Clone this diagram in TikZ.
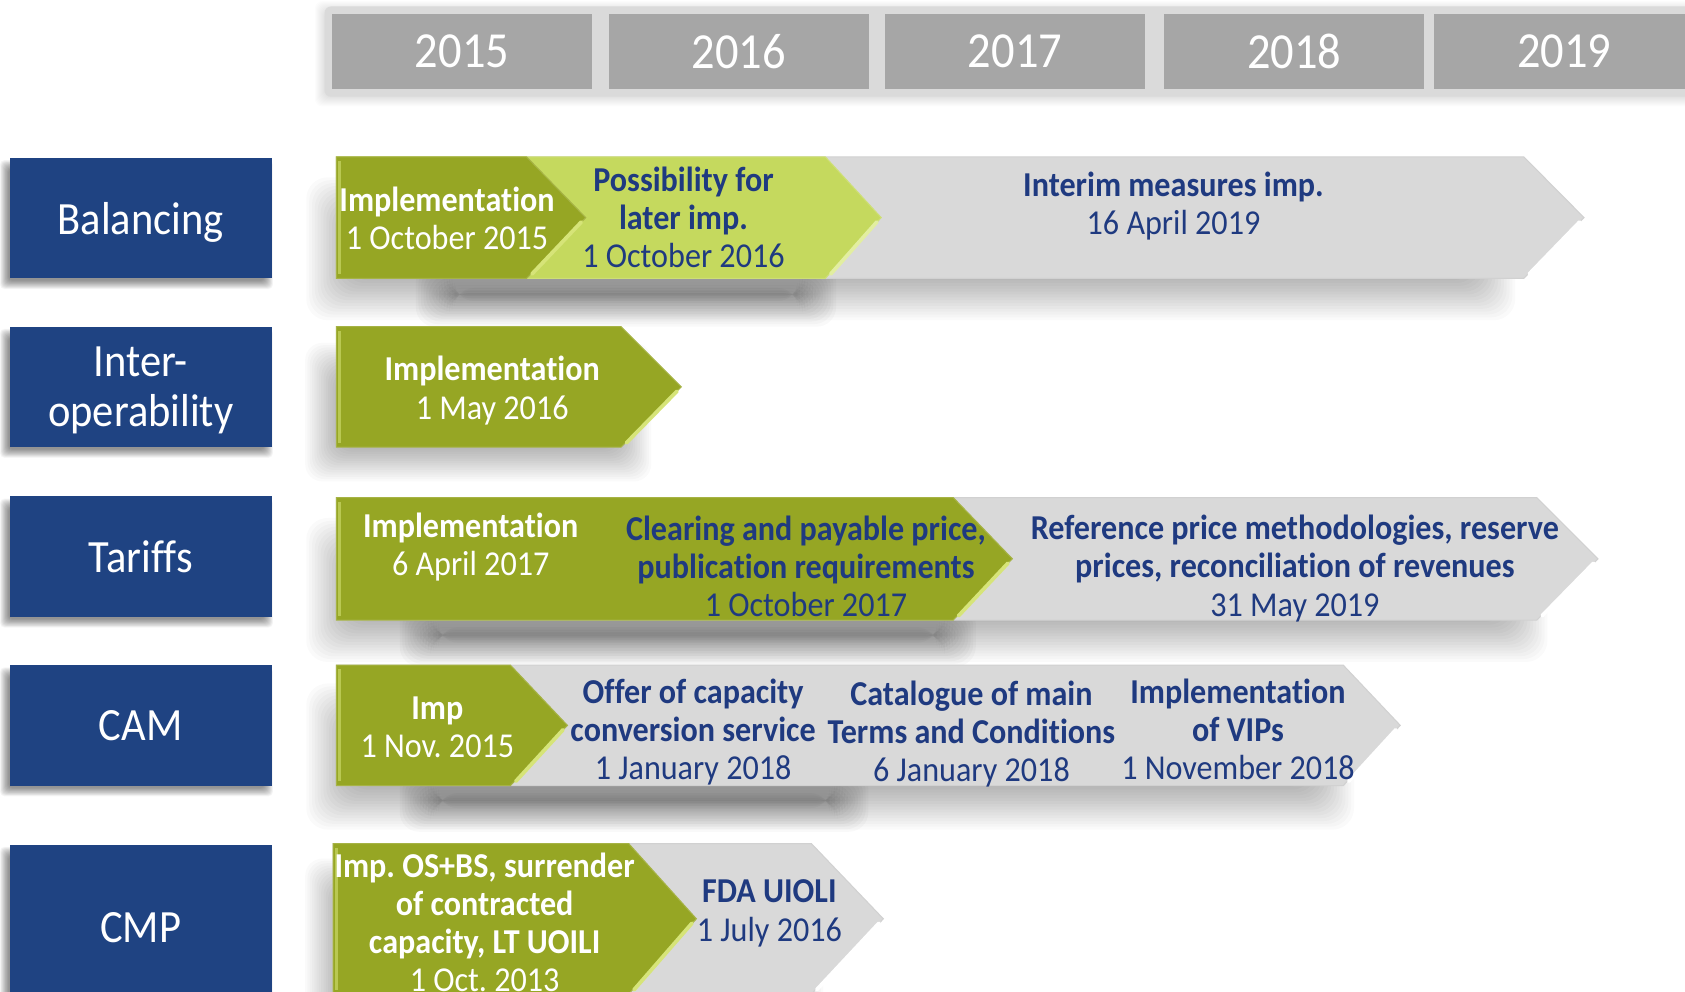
\documentclass[tikz,border=0pt]{standalone}
\usepackage{fontspec}
\setmainfont{Carlito}[FakeStretch=0.92, Ligatures=NoCommon]
\usetikzlibrary{calc}
\definecolor{blueL}{RGB}{31,67,130}
\definecolor{txtB}{RGB}{31,58,128}
\definecolor{oliveG}{RGB}{150,166,36}
\definecolor{lightG}{RGB}{197,217,94}
\definecolor{arrG}{RGB}{217,217,217}
\definecolor{yearG}{RGB}{166,166,166}
\definecolor{haloG}{RGB}{218,218,218}
\definecolor{oliveHi}{RGB}{214,228,120}
\definecolor{lightHi}{RGB}{226,238,160}

% x1 y1 x2 y2 radius layer-opacity
\newcommand\softbox[6]{%
  \foreach \k in {0,...,15}{%
    \fill[black, fill opacity=#6, rounded corners=#5pt]
      ({#1-#5+\k*#5/7.5},{#2-#5+\k*#5/7.5}) rectangle ({#3+#5-\k*#5/7.5},{#4+#5-\k*#5/7.5});
  }}
% x1 xc x2 y1 y2 style
\newcommand\mychev[6]{%
  \path[#6] (#1,#4) -- (#2,#4) -- (#3,{(#4+#5)/2}) -- (#2,#5) -- (#1,#5) -- cycle;}
% x1 xc x2 y1 y2 colour
\newcommand\mybevel[6]{%
  \draw[#6, line width=3.5pt, line cap=round] ({#2+5},{#5-4}) -- ({#3-4},{(#4+#5)/2+4});
  \draw[#6, line width=2.5pt, opacity=0.55] ({#1+3},{#4+4}) -- ({#1+3},{#5-4});}

\tikzset{
  lab/.style={fill=blueL, text=white, minimum width=244pt, minimum height=112pt, inner sep=0pt,
    align=center, text depth=0pt, font=\fontsize{43}{47}\selectfont},
  yr/.style={fill=yearG, text=white, minimum width=242pt, minimum height=70pt, inner sep=0pt,
    font=\fontsize{47}{50}\selectfont},
  wt/.style={text=white, align=center, inner sep=0pt, font=\frenchspacing\fontsize{32.5}{35.5}\selectfont},
  bt/.style={text=txtB, align=center, inner sep=0pt, font=\frenchspacing\fontsize{32.5}{35.5}\selectfont},
  grayarr/.style={fill=arrG, draw=black!18, line width=1pt},
  olivearr/.style={fill=oliveG, draw=oliveG!85!white, line width=1pt},
  lightarr/.style={fill=lightG, draw=lightG!85!white, line width=1pt},
}

\begin{document}
\begin{tikzpicture}[x={(1pt,0)}, y={(0,-1pt)}]
\useasboundingbox[fill=white] (0,0) rectangle (1568,923);

% ---------- year header ----------
\softbox{300}{8}{1600}{92}{7}{0.012}
\fill[haloG, rounded corners=6pt] (302,6) rectangle (1600,90);
\node[yr] (y15) at (430,48) {2015};
\node[yr] (y16) at (687.5,48) {2016};
\node[yr] (y17) at (944.5,48) {2017};
\node[yr] (y18) at (1204.5,48) {2018};
\node[yr] (y19) at (1455.5,48) {2019};

% ---------- left labels ----------
\softbox{4}{153}{250}{265}{4}{0.03}
\softbox{4}{310}{250}{422}{4}{0.03}
\softbox{4}{468}{250}{580}{4}{0.03}
\softbox{4}{625}{250}{737}{4}{0.03}
\softbox{4}{792}{250}{940}{4}{0.03}
\node[lab] (lbal) at (131,203) {Balancing};
\node[lab] (lint) at (131,360) {Inter-\\operability};
\node[lab] (ltar) at (131,518) {Tariffs};
\node[lab] (lcam) at (131,675) {CAM};
\node[lab, minimum height=154pt] (lcmp) at (131,863) {CMP};

% ---------- shadows of the rows ----------
\softbox{305}{185}{1390}{278}{20}{0.02}
\softbox{405}{262}{760}{286}{18}{0.022}
\softbox{300}{335}{590}{432}{16}{0.018}
\softbox{305}{502}{1420}{596}{20}{0.02}
\softbox{390}{580}{890}{602}{18}{0.022}
\softbox{305}{656}{1240}{752}{20}{0.02}
\softbox{390}{734}{790}{756}{18}{0.022}
\softbox{300}{815}{750}{950}{16}{0.018}

% ---------- Balancing ----------
\mychev{313}{1418}{1474}{146}{259}{grayarr}
\mybevel{313}{1418}{1474}{146}{259}{white}
\mychev{313}{768}{820}{146}{259}{lightarr}
\mybevel{313}{768}{820}{146}{259}{lightHi}
\mychev{313}{490}{545}{146}{259}{olivearr}
\mybevel{313}{490}{545}{146}{259}{oliveHi}
\node[wt] (b1) at (416,203.5) {\textbf{Implementation}\\1 October 2015};
\node[bt] (b2) at (636,202) {\textbf{Possibility for}\\\textbf{later imp.}\\1 October 2016};
\node[bt] (b3) at (1092,191.5) {\textbf{Interim measures imp.}\\16 April 2019};

% ---------- Interoperability ----------
\mychev{313}{578}{634}{304}{416}{olivearr}
\mybevel{313}{578}{634}{304}{416}{oliveHi}
\node[wt] (i1) at (458,363.5) {\textbf{Implementation}\\1 May 2016};

% ---------- Tariffs ----------
\mychev{313}{1430}{1487}{463}{577}{grayarr}
\mybevel{313}{1430}{1487}{463}{577}{white}
\mychev{313}{887}{942}{463}{577}{olivearr}
\mybevel{313}{887}{942}{463}{577}{oliveHi}
\node[wt] (t1) at (438,509) {\textbf{Implementation}\\6 April 2017};
\node[bt] (t2) at (750,527) {\textbf{Clearing and payable price,}\\\textbf{publication requirements}\\1 October 2017};
\node[bt] (t3) at (1205,529) {\textbf{Reference price methodologies, reserve}\\\textbf{prices, reconciliation of revenues}\\31 May 2019};

% ---------- CAM ----------
\mychev{313}{1250}{1303}{619}{731}{grayarr}
\mybevel{313}{1250}{1303}{619}{731}{white}
\mychev{313}{475}{528}{619}{731}{olivearr}
\mybevel{313}{475}{528}{619}{731}{oliveHi}
\node[wt] (c1) at (407,677) {\textbf{Imp}\\1 Nov. 2015};
\node[bt] (c2) at (645,681.5) {\textbf{Offer of capacity}\\\textbf{conversion service}\\1 January 2018};
\node[bt] (c3) at (904,683) {\textbf{Catalogue of main}\\\textbf{Terms and Conditions}\\6 January 2018};
\node[bt] (c4) at (1152,679) {\textbf{Implementation}\\\textbf{of VIPs}\\1 November 2018};

% ---------- CMP ----------
\mychev{310}{755}{822}{785}{925}{grayarr}
\mybevel{310}{755}{822}{785}{925}{white}
\mychev{310}{585}{648}{785}{925}{olivearr}
\mybevel{310}{585}{648}{785}{925}{oliveHi}
\node[wt] (m1) at (451,858.5) {\textbf{Imp. OS+BS, surrender}\\\textbf{of contracted}\\\textbf{capacity, LT UOILI}\\1 Oct. 2013};
\node[bt] (m2) at (716,850) {\textbf{FDA UIOLI}\\1 July 2016};
\end{tikzpicture}
\end{document}
